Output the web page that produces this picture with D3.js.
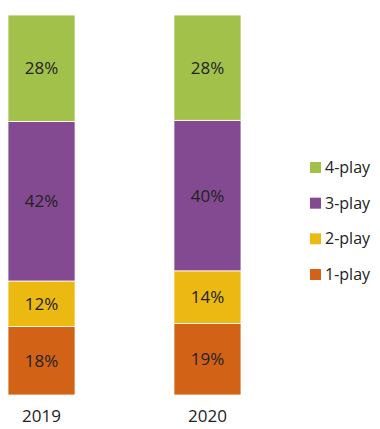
<!DOCTYPE html>
<html>
<head>
<meta charset="utf-8">
<script src="https://cdn.jsdelivr.net/npm/d3@7"></script>
<style>
  body { margin: 0; background: #fff; }
  svg text { font-family: "Open Sans", sans-serif; fill: #222; }
</style>
</head>
<body>
<svg id="chart"></svg>
<script>
// ---- data ----
var years = ["2019", "2020"];
var series = ["1-play", "2-play", "3-play", "4-play"];
var values = {
  "1-play": [18, 19],
  "2-play": [12, 14],
  "3-play": [42, 40],
  "4-play": [28, 28]
};
var colors = ["#d26216", "#ecb913", "#834a92", "#a2c14a"];

var width = 380, height = 429;

var svg = d3.select("#chart")
  .attr("width", width)
  .attr("height", height);

// build rows, normalised to 100% like the original
var rows = years.map(function(y, i) {
  var row = {year: y};
  series.forEach(function(s) { row[s] = values[s][i]; });
  row.total = d3.sum(series, s => row[s]);
  return row;
});

var stack = d3.stack()
  .keys(series)
  .value((d, key) => d[key] / d.total);

var stacked = stack(rows);

var x = d3.scaleBand()
  .domain(years)
  .range([8, 241])
  .paddingInner(0.596)
  .paddingOuter(0);

var y = d3.scaleLinear()
  .domain([0, 1])
  .range([395, 15]);

var color = d3.scaleOrdinal().domain(series).range(colors);

var layers = svg.selectAll(".layer")
  .data(stacked)
  .enter()
  .append("g")
    .classed("layer", true)
    .attr("fill", d => color(d.key));

layers.selectAll("rect")
  .data(d => d)
  .enter()
  .append("rect")
    .attr("x", d => x(d.data.year))
    .attr("y", d => y(d[1]))
    .attr("width", x.bandwidth())
    .attr("height", d => y(d[0]) - y(d[1]))
    .attr("stroke", "#fff")
    .attr("stroke-width", 0.8);

// value labels
layers.selectAll(".val")
  .data(d => d.map(p => ({p: p, key: d.key})))
  .enter()
  .append("text")
    .classed("val", true)
    .attr("x", d => x(d.p.data.year) + x.bandwidth() / 2)
    .attr("y", d => (y(d.p[0]) + y(d.p[1])) / 2)
    .attr("dy", "0.35em")
    .attr("text-anchor", "middle")
    .style("font-size", "17px")
    .text(d => d.p.data[d.key] + "%");

// x axis labels
var xAxis = svg.append("g")
  .attr("transform", "translate(0,395)")
  .call(d3.axisBottom(x).tickSize(0).tickPadding(15));
xAxis.select(".domain").remove();
xAxis.selectAll("text")
  .style("font-size", "17px")
  .style("font-family", "'Open Sans', sans-serif")
  .attr("fill", "#222");

// legend, top to bottom 4-play .. 1-play
var legendY = d3.scalePoint()
  .domain(series.slice().reverse())
  .range([167, 274]);

var legend = svg.selectAll(".legend")
  .data(series.slice().reverse())
  .enter()
  .append("g")
    .classed("legend", true)
    .attr("transform", d => "translate(310," + legendY(d) + ")");

legend.append("rect")
  .attr("x", 0)
  .attr("y", -5)
  .attr("width", 11)
  .attr("height", 11)
  .attr("fill", d => color(d));

legend.append("text")
  .attr("x", 15)
  .attr("dy", "0.37em")
  .style("font-size", "16px")
  .text(d => d);
</script>
</body>
</html>
